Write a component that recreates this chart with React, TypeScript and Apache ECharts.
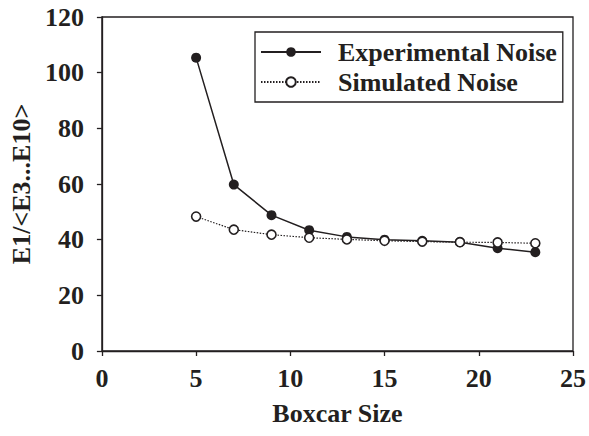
import React, { useEffect, useRef } from "react";
import * as echarts from "echarts";

const boxcarSizes = [5, 7, 9, 11, 13, 15, 17, 19, 21, 23];
const experimentalNoise = [105.4, 59.8, 48.8, 43.4, 41.0, 40.0, 39.6, 39.1, 36.9, 35.5];
const simulatedNoise = [48.3, 43.6, 41.8, 40.7, 40.1, 39.6, 39.3, 39.1, 39.0, 38.7];
const seriesNames = ["Experimental Noise", "Simulated Noise"];
const xAxisTitle = "Boxcar Size";
const yAxisTitle = "E1/<E3...E10>";

const FONT = "'Liberation Serif', 'Times New Roman', serif";
const INK = "#231f20";
const FS = 26;

export default function App() {
  const ref = useRef<HTMLDivElement>(null);
  useEffect(() => {
    if (!ref.current) return;
    const chart = echarts.init(ref.current, undefined, { renderer: "svg" });
    const pairs = (ys: number[]) => boxcarSizes.map((x, i) => [x, ys[i]]);
    chart.setOption({
      animation: false,
      backgroundColor: "#ffffff",
      grid: {
        left: 100,
        top: 17,
        right: 13.5,
        bottom: 85,
        show: true,
        borderColor: INK,
        borderWidth: 1.3,
        backgroundColor: "transparent",
      },
      legend: {
        left: 255,
        top: 32,
        orient: "vertical",
        padding: [7, 6, 7, 5],
        itemWidth: 60,
        itemHeight: 12,
        itemGap: 4,
        borderColor: INK,
        borderWidth: 1.3,
        textStyle: {
          fontFamily: FONT,
          fontWeight: "bold",
          fontSize: FS,
          color: INK,
          padding: [0, 0, 0, 12],
        },
        data: seriesNames,
      },
      xAxis: {
        type: "value",
        min: 0,
        max: 25,
        interval: 5,
        name: xAxisTitle,
        nameLocation: "middle",
        nameGap: 49,
        nameTextStyle: { fontFamily: FONT, fontWeight: "bold", fontSize: FS, color: INK },
        axisLine: { show: true, lineStyle: { color: INK, width: 1.3 } },
        axisTick: { show: true, inside: false, length: 5, lineStyle: { color: INK, width: 1.3 } },
        axisLabel: { margin: 14, fontFamily: FONT, fontWeight: "bold", fontSize: FS, color: INK },
        splitLine: { show: false },
      },
      yAxis: {
        type: "value",
        min: 0,
        max: 120,
        interval: 20,
        name: yAxisTitle,
        nameLocation: "middle",
        nameGap: 67,
        nameRotate: 90,
        nameTextStyle: { fontFamily: FONT, fontWeight: "bold", fontSize: FS, color: INK },
        axisLine: { show: true, lineStyle: { color: INK, width: 1.3 } },
        axisTick: { show: true, inside: false, length: 5, lineStyle: { color: INK, width: 1.3 } },
        axisLabel: { margin: 18, fontFamily: FONT, fontWeight: "bold", fontSize: FS, color: INK },
        splitLine: { show: false },
      },
      series: [
        {
          name: seriesNames[0],
          type: "line",
          data: pairs(experimentalNoise),
          symbol: "circle",
          symbolSize: 10,
          lineStyle: { color: INK, width: 1.5, type: "solid" },
          itemStyle: { color: INK, borderColor: INK, borderWidth: 0 },
          z: 3,
        },
        {
          name: seriesNames[1],
          type: "line",
          data: pairs(simulatedNoise),
          symbol: "circle",
          symbolSize: 9,
          showAllSymbol: true,
          lineStyle: { color: INK, width: 1.2, type: [1.5, 1.5] },
          itemStyle: { color: "#ffffff", borderColor: INK, borderWidth: 1.6 },
          z: 4,
        },
      ],
    });
    return () => chart.dispose();
  }, []);
  return <div ref={ref} style={{ width: 589, height: 436, position: "absolute", left: 0, top: 0 }} />;
}
